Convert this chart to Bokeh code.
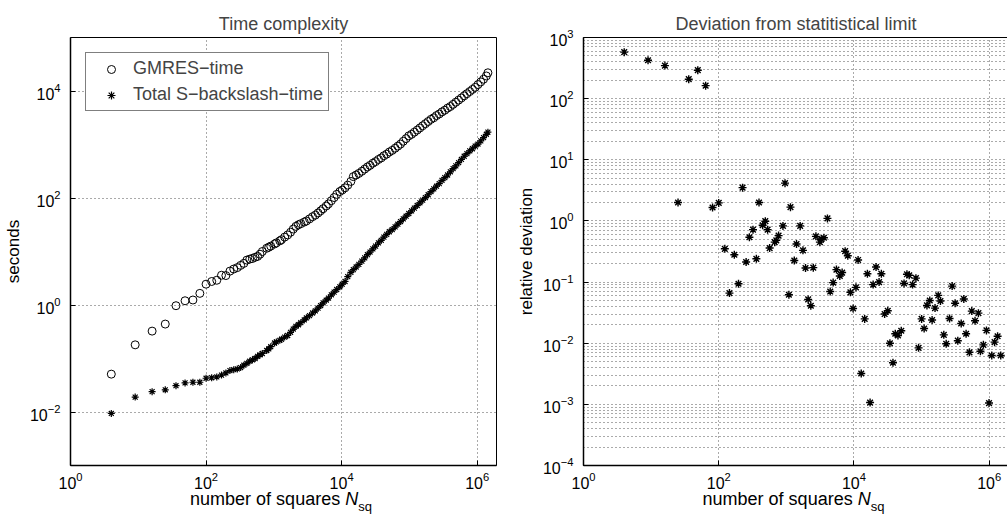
from bokeh.plotting import figure
from bokeh.layouts import row, column
from bokeh.models import Range1d, FixedTicker, LogTickFormatter, Div
from bokeh.embed import file_html
from bokeh.resources import INLINE

FONT = "Liberation Sans"

# ---------------- data: time complexity ----------------
n_squares = [4, 9, 16, 25, 36, 49, 64, 81,
             100, 121, 144, 169, 196, 225, 256, 289, 324, 361, 400, 441, 484, 529, 576, 625, 676,
             784, 841, 900, 1024, 1089, 1225, 1296, 1444, 1600, 1764, 1936, 2116, 2304, 2500,
             2809, 3025, 3364, 3721, 4096, 4489, 4900, 5329, 5929, 6400, 7056, 7744, 8464, 9409,
             10201, 11236, 12321, 13689, 14884, 16384, 17956, 19881, 21904, 24025, 26244, 28900,
             31684, 34969, 38416,
             42025, 46225, 50625, 55696, 61504, 67600, 73984, 81225, 89401, 97969, 107584, 118336,
             130321, 142884, 156816,
             172225, 189225, 207936, 228484, 251001, 275625, 302500, 332929, 366025, 401956, 440896,
             484416, 532900, 585225, 643204,
             705600, 776161, 851929, 935089, 1028196, 1129969, 1240996, 1364224, 1440000]

gmres_time = [0.051, 0.18, 0.325, 0.44, 0.97, 1.2, 1.24, 1.65,
              2.45, 2.75, 2.9, 3.6, 3.55, 4.3, 4.7, 5.0, 5.5, 6.0, 6.9, 7.2, 7.4, 7.8, 8.1, 8.9, 10.0,
              11.5, 12.0, 12.6, 13.8, 14.5, 15.8, 16.6, 18.6, 20.4, 22.9, 26.3, 29.5, 31.6, 33.1,
              35.5, 37.2, 40.7, 44.7, 47.9, 52.5, 57.5, 63.1, 70.8, 77.6, 89.1, 102, 117, 132,
              141, 155, 174, 204, 251, 269, 288, 316, 347, 380, 407, 447,
              479, 525, 562,
              617, 661, 724, 776, 851, 933, 1020, 1150, 1290, 1450, 1550, 1700,
              1860, 2040, 2240,
              2450, 2690, 2950, 3160, 3470, 3720, 4070, 4370, 4790, 5130, 5620,
              6170, 6760, 7410, 8130,
              8910, 9770, 10700, 11700, 13200, 14800, 16600, 19100, 21900]

backslash_time = [0.0094, 0.019, 0.024, 0.026, 0.031, 0.035, 0.036, 0.036,
                  0.0427, 0.0437, 0.0452, 0.049, 0.0537, 0.0596, 0.0617, 0.0638, 0.0676, 0.075,
                  0.0813, 0.0891, 0.0944, 0.100, 0.110, 0.117, 0.124,
                  0.141, 0.151, 0.166, 0.195, 0.204, 0.219, 0.229, 0.251, 0.269, 0.309, 0.355,
                  0.398, 0.427, 0.468,
                  0.525, 0.575, 0.631, 0.708, 0.776, 0.871, 0.977, 1.10, 1.23, 1.35, 1.55, 1.74,
                  1.95, 2.19,
                  2.45, 2.75, 3.39, 4.07, 4.57, 5.13, 5.75, 6.61, 7.59, 8.71, 9.77, 11.2,
                  12.6, 14.5, 16.2,
                  18.6, 20.9, 23.4, 25.7, 28.8, 32.4, 36.3, 40.7, 45.7, 51.3, 57.5, 64.6,
                  72.4, 81.3, 91.2,
                  102, 115, 132, 148, 166, 186, 214, 240, 269, 309, 355,
                  398, 457, 525, 603,
                  676, 759, 832, 933, 1020, 1170, 1350, 1550, 1700]

# ---------------- data: deviation ----------------
dev_n = [4, 9, 16, 25, 36, 49, 64, 81, 100, 123, 144, 170, 196, 225, 254, 284, 321, 360, 394,
         446, 488, 528, 566, 672, 710, 767, 890, 955, 1090, 1150, 1310, 1413, 1600, 1760, 1920,
         2100, 2300, 2500, 2735, 3130, 3270, 3590, 4050, 4450, 4920, 5500, 6170, 6680, 7400,
         8100, 8850, 9700, 10700, 11500, 12800, 14400, 15800, 17300, 19200, 21200, 23500,
         25400, 28400, 31600, 34000, 37700, 40800, 44700, 50000, 55000, 60700, 65600, 73600,
         82400, 90200, 100000, 109000, 120000, 132000, 143000, 158000, 176000, 190000, 213000,
         231000, 259000, 283000, 313000, 343000, 385000, 421000, 455000, 510000, 552000,
         617000, 692000, 741000, 820000, 910000, 993000, 1090000, 1200000, 1330000, 1480000]

dev_rel = [576, 425, 347, 2.0, 208, 292, 163, 1.66, 1.97, 0.35, 0.066, 0.28, 0.094, 3.5, 0.213,
           0.54, 0.72, 0.24, 2.0, 0.85, 0.99, 0.72, 0.36, 0.45, 0.48, 0.576, 0.83, 4.15, 0.062,
           1.68, 0.225, 0.42, 0.83, 0.33, 0.17, 0.052, 0.041, 0.172, 0.56, 0.45, 0.5, 0.53, 1.1,
           0.070, 0.098, 0.16, 0.126, 0.143, 0.32, 0.27, 0.068, 0.037, 0.082, 0.23, 0.0032,
           0.025, 0.137, 0.00107, 0.091, 0.176, 0.1, 0.137, 0.030, 0.034, 0.01, 0.0048, 0.0143,
           0.0134, 0.016, 0.095, 0.134, 0.129, 0.091, 0.116, 0.0084, 0.025, 0.0174, 0.0415,
           0.05, 0.024, 0.0375, 0.0605, 0.049, 0.0137, 0.0098, 0.0254, 0.086, 0.045, 0.011,
           0.021, 0.053, 0.0143, 0.0071, 0.0335, 0.0233, 0.031, 0.0074, 0.0094, 0.0162, 0.00105,
           0.0063, 0.0104, 0.013, 0.0063]

x_ticks = [1, 1e2, 1e4, 1e6]
y_ticks_left = [1e-2, 1, 1e2, 1e4]
y_ticks_right = [1e-4, 1e-3, 1e-2, 1e-1, 1, 1e1, 1e2, 1e3]
y_minor_right = [m * 10.0 ** k for k in range(-4, 3) for m in range(2, 10)]

XMAX = 10 ** 6.285
FIG_BOTTOM = 26


def style(p, yticks, yminor=None):
    p.title.text_font = FONT
    p.title.text_font_size = "18px"
    p.title.text_font_style = "normal"
    p.title.align = "center"
    p.title.standoff = 8
    p.outline_line_color = "black"
    p.outline_line_width = 1
    p.background_fill_color = "white"
    p.border_fill_color = "white"
    for ax in (p.xaxis[0], p.yaxis[0]):
        ax.axis_line_color = "black"
        ax.axis_line_width = 1.5
        ax.major_tick_line_color = "black"
        ax.major_tick_in = 5
        ax.major_tick_out = 0
        ax.minor_tick_line_color = None
        ax.major_label_text_font = FONT
        ax.major_label_text_font_size = "16px"
        ax.major_label_text_color = "black"
        ax.axis_label_text_font = FONT
        ax.axis_label_text_font_size = "17px"
        ax.axis_label_text_font_style = "normal"
        ax.axis_label_text_color = "black"
        ax.formatter = LogTickFormatter()
    p.xaxis[0].ticker = FixedTicker(ticks=x_ticks)
    p.xaxis[0].major_label_standoff = 6
    p.yaxis[0].ticker = FixedTicker(ticks=yticks)
    p.yaxis[0].major_label_standoff = 10
    p.xgrid[0].ticker = FixedTicker(ticks=x_ticks)
    p.ygrid[0].ticker = FixedTicker(ticks=yticks, minor_ticks=yminor or [])
    for g in (p.xgrid[0], p.ygrid[0]):
        g.grid_line_color = "#555555"
        g.grid_line_dash = "1 3"
        g.grid_line_width = 1
    if yminor:
        p.ygrid[0].minor_grid_line_color = "#555555"
        p.ygrid[0].minor_grid_line_dash = "1 3"
        p.ygrid[0].minor_grid_line_width = 1


def xlabel_div(width, pad_left):
    html = ('<span style="position:relative; top:-4px; white-space:nowrap;">number of squares '
            '<i>N</i><span style="position:relative; top:6px; font-size:13px;">sq</span></span>')
    return Div(text=html, width=width, height=24, margin=(0, 0, 0, 0),
               styles={"font-family": FONT, "font-size": "18px", "line-height": "24px",
                       "color": "black", "text-align": "center",
                       "padding-left": f"{pad_left}px", "box-sizing": "border-box",
                       "overflow": "visible"})


# ---------------- left figure ----------------
p1 = figure(frame_width=426, frame_height=428, x_axis_type="log", y_axis_type="log",
            x_range=Range1d(1, XMAX), y_range=Range1d(1e-3, 1e5),
            output_backend="svg", toolbar_location=None,
            min_border_left=68, min_border_right=6, min_border_top=37,
            min_border_bottom=FIG_BOTTOM, title="Time complexity")
style(p1, y_ticks_left)
p1.yaxis[0].axis_label = "seconds"
p1.yaxis[0].axis_label_standoff = 4

p1.scatter(n_squares, gmres_time, marker="circle", size=8, fill_alpha=0,
           line_color="black", line_width=1, legend_label="GMRES\u2212time")
p1.scatter(n_squares, backslash_time, marker="asterisk", size=7,
           line_color="black", line_width=1.2, legend_label="Total S\u2212backslash\u2212time")

lg = p1.legend[0]
lg.location = "top_left"
lg.margin = 15
lg.padding = 5
lg.spacing = 5
lg.glyph_width = 40
lg.glyph_height = 20
lg.label_standoff = 2
lg.label_text_font = FONT
lg.label_text_font_size = "18px"
lg.border_line_color = "black"
lg.border_line_width = 1
lg.background_fill_alpha = 1

# ---------------- right figure ----------------
p2 = figure(frame_width=425, frame_height=428, x_axis_type="log", y_axis_type="log",
            x_range=Range1d(1, XMAX), y_range=Range1d(1e-4, 1e3),
            output_backend="svg", toolbar_location=None,
            min_border_left=81, min_border_right=1, min_border_top=37,
            min_border_bottom=FIG_BOTTOM, title="Deviation from statitistical limit")
style(p2, y_ticks_right, y_minor_right)
p2.yaxis[0].axis_label = "relative deviation"
p2.yaxis[0].axis_label_standoff = 4

p2.scatter(dev_n, dev_rel, marker="asterisk", size=8, line_color="black", line_width=1.4)

d1 = xlabel_div(500, 62)
d2 = xlabel_div(507, 80)

layout = column(row(p1, p2), row(d1, d2))
open("out.html", "w").write(file_html(layout, INLINE))
